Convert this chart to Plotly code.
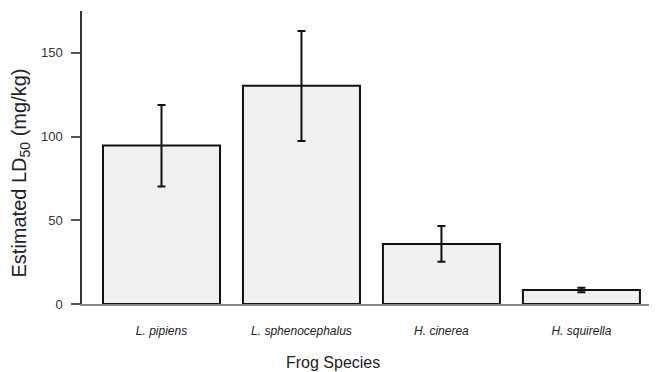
import plotly.graph_objects as go

species = ["L. pipiens", "L. sphenocephalus", "H. cinerea", "H. squirella"]
ld50 = [94.6, 130.3, 35.9, 8.4]
err_plus = [24.3, 32.8, 10.7, 1.3]
err_minus = [24.4, 33.0, 10.6, 1.4]
y_ticks = [0, 50, 100, 150]

FONT = "Liberation Sans, Arial, sans-serif"

fig = go.Figure()
fig.add_trace(go.Bar(
    x=species, y=ld50,
    marker=dict(color="#f1f1f1", line=dict(color="#111111", width=2)),
    error_y=dict(type="data", symmetric=False, array=err_plus, arrayminus=err_minus,
                 color="#111111", thickness=2, width=4),
))

# page body has an 8px margin, so the figure is drawn 8px smaller and offset
fig.update_layout(
    width=649, height=364,
    margin=dict(l=74, r=0, t=3, b=68, autoexpand=False),
    paper_bgcolor="white", plot_bgcolor="white",
    showlegend=False,
    bargap=0.164,
    font=dict(family=FONT, color="#222222"),
    xaxis=dict(
        range=[-0.568, 3.54], showgrid=False, zeroline=False,
        showline=True, linecolor="#888888", linewidth=1.5,
        ticks="", tickfont=dict(size=12, style="italic", color="#222222"),
        ticklabelstandoff=15,
    ),
    yaxis=dict(
        range=[0, 175], showgrid=False, zeroline=False,
        showline=True, linecolor="#333333", linewidth=1.5,
        ticks="outside", ticklen=9, tickwidth=1.5, tickcolor="#555555",
        tickvals=y_ticks, tickfont=dict(size=13, color="#333333"),
        ticklabelstandoff=6,
    ),
    annotations=[
        dict(text="Estimated LD<sub>50</sub> (mg/kg)", textangle=-90,
             xref="paper", yref="paper", x=0, y=(304 - 173.5) / 293,
             xanchor="center", yanchor="middle", xshift=-62,
             showarrow=False, font=dict(size=20, family=FONT, color="#222222")),
        dict(text="Frog Species",
             xref="paper", yref="paper", x=(332.5 - 82) / 575, y=0,
             xanchor="center", yanchor="middle", yshift=-58,
             showarrow=False, font=dict(size=16, family=FONT, color="#222222")),
    ],
)

fig.write_html("out.html")
